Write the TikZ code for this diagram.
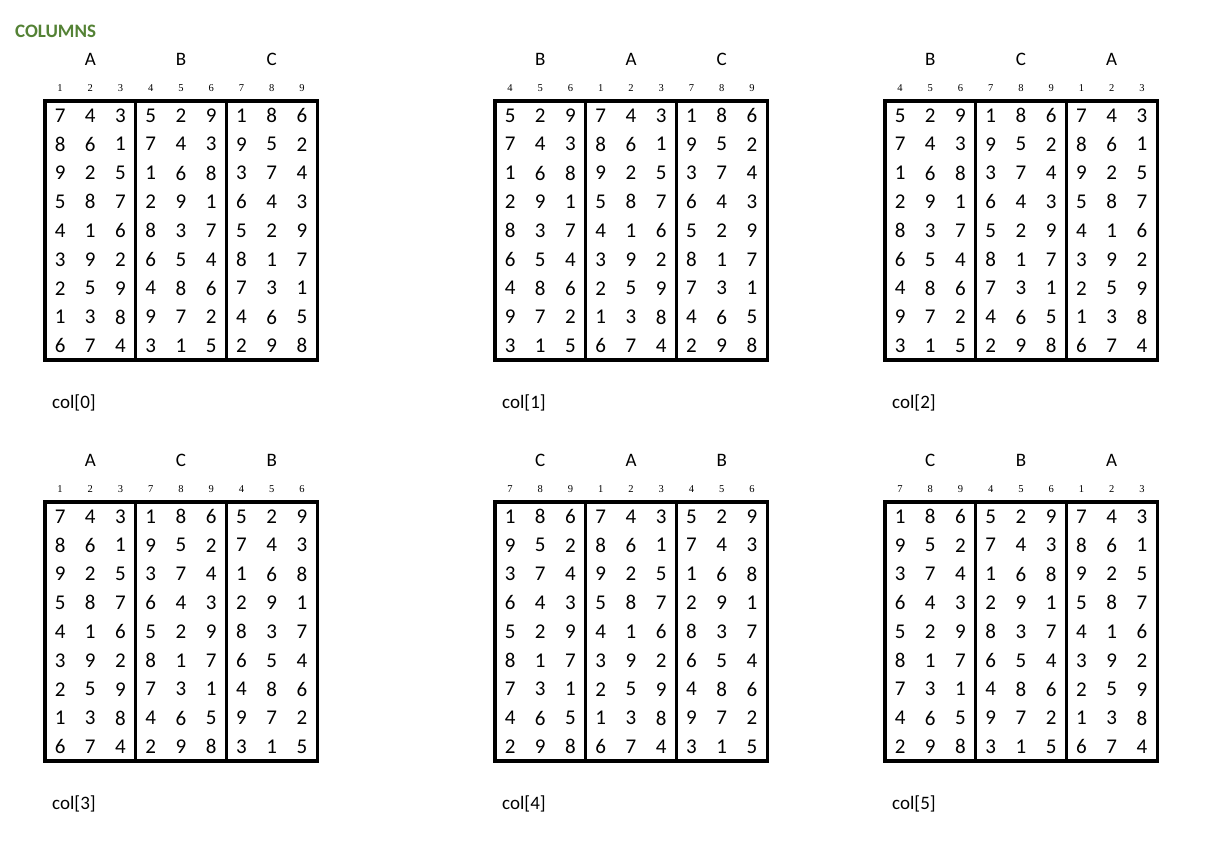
\documentclass[tikz,border=0pt]{standalone}
\usepackage{fontspec}
\setmainfont{Carlito}
\newfontfamily\smallserif{Liberation Serif}
\definecolor{titlegreen}{HTML}{548235}

% blocks of three columns, row by row
\def\blockA{{7,4,3},{8,6,1},{9,2,5},{5,8,7},{4,1,6},{3,9,2},{2,5,9},{1,3,8},{6,7,4}}
\def\blockB{{5,2,9},{7,4,3},{1,6,8},{2,9,1},{8,3,7},{6,5,4},{4,8,6},{9,7,2},{3,1,5}}
\def\blockC{{1,8,6},{9,5,2},{3,7,4},{6,4,3},{5,2,9},{8,1,7},{7,3,1},{4,6,5},{2,9,8}}
\def\offA{0}\def\offB{3}\def\offC{6}

\tikzset{
  digit/.style={font=\fontsize{21}{21}\selectfont, inner sep=0pt},
  letter/.style={font=\fontsize{19}{19}\selectfont, inner sep=0pt},
  colnum/.style={font=\smallserif\fontsize{10.5}{10.5}\selectfont, inner sep=0pt},
  gridlabel/.style={font=\fontsize{19}{19}\selectfont, inner sep=0pt, anchor=west},
  blockframe/.style={line width=3.2pt},
}

\begin{document}
\begin{tikzpicture}[x=1pt,y=-1pt]
\useasboundingbox (0,0) rectangle (1220,852);
\node[font=\bfseries\fontsize{19}{19}\selectfont, text=titlegreen, anchor=west, inner sep=0pt] (title) at (15,31) {COLUMNS};

\foreach \gx/\gy/\perm [count=\g from 0] in {45/101/{A,B,C}, 495/101/{B,A,C}, 885/101/{B,C,A},
                                               45/502/{A,C,B}, 495/502/{C,A,B}, 885/502/{C,B,A}} {
  \foreach \L [count=\p from 0] in \perm {
    \pgfmathsetmacro{\bx}{\gx+\p*90.7}
    % block letter and column numbers
    \node[letter] (hd\g\L) at (\bx+45.3,\gy-42) {\L};
    \foreach \k in {1,2,3} {
      \pgfmathtruncatemacro{\num}{\csname off\L\endcsname+\k}
      \node[colnum] (cn\g\num) at (\bx+15.1+30.2*\k-30.2,\gy-13) {\num};
    }
    % digits of the block
    \edef\blk{\csname block\L\endcsname}
    \foreach \row [count=\i] in \blk {
      \foreach \d [count=\j] in \row {
        \node[digit] (d\g\L\i\j) at (\bx+15.1+30.2*\j-30.2,\gy+14.4+28.8*\i-28.8) {\d};
      }
    }
    \draw[blockframe] (\bx,\gy) rectangle (\bx+90.7,\gy+259);
  }
  \node[gridlabel] (lbl\g) at (\gx+7,\gy+302) {col[\g]};
}
\end{tikzpicture}
\end{document}
